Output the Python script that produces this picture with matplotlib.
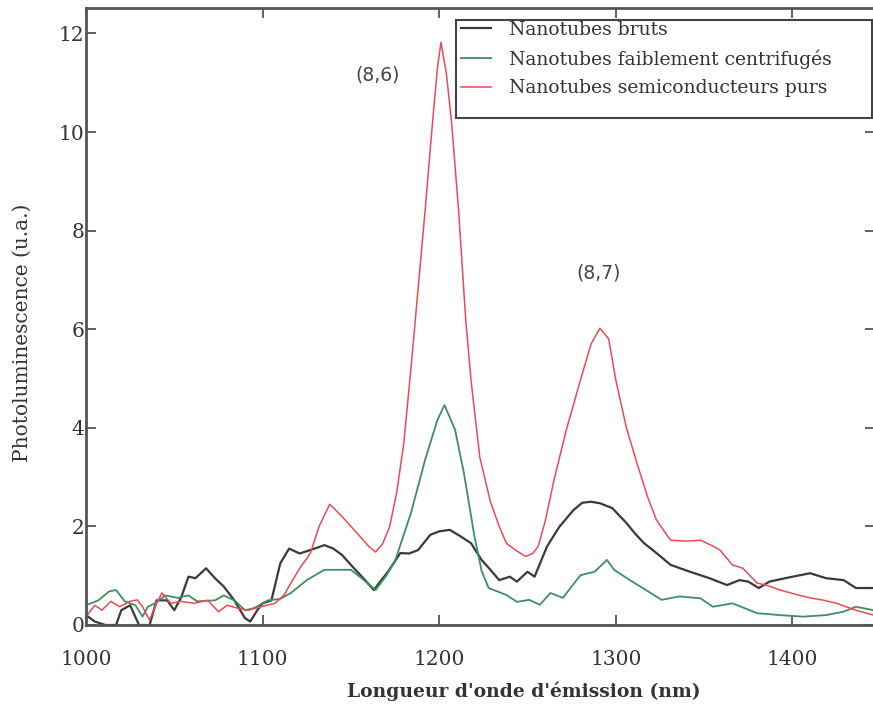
import matplotlib
matplotlib.use("Agg")
import matplotlib.pyplot as plt
from matplotlib.patches import Rectangle

# ---- data ----
x_bruts = [1000,1005,1011,1017,1020,1025,1030,1036,1040,1046,1050,1054,1058,1062,1068,1073,1078,1084,1090,1093,
           1097,1100,1105,1110,1115,1121,1127,1135,1140,1145,1151,1157,1163,1167,1171,1178,1183,1188,1195,1200,
           1206,1212,1218,1224,1229,1234,1240,1244,1250,1254,1261,1268,1276,1281,1286,1291,1298,1306,1311,1316,
           1323,1331,1342,1353,1363,1370,1375,1381,1387,1396,1403,1410,1419,1429,1436,1446]
y_bruts = [0.2,0.07,0.0,0.0,0.3,0.4,0.0,0.0,0.5,0.5,0.3,0.57,0.98,0.95,1.15,0.95,0.78,0.5,0.14,0.07,
           0.3,0.44,0.5,1.25,1.55,1.45,1.52,1.62,1.55,1.42,1.18,0.95,0.71,0.9,1.08,1.46,1.45,1.52,1.83,1.9,
           1.93,1.8,1.66,1.32,1.12,0.91,0.98,0.88,1.08,0.98,1.59,1.99,2.33,2.48,2.5,2.47,2.37,2.07,1.85,1.66,
           1.46,1.22,1.08,0.95,0.81,0.91,0.88,0.75,0.88,0.95,1.0,1.05,0.95,0.91,0.75,0.75]

x_centri = [1000,1007,1013,1017,1022,1028,1032,1035,1039,1045,1052,1058,1063,1073,1078,1084,1090,1095,1103,1110,
            1116,1125,1135,1150,1156,1164,1170,1175,1184,1192,1199,1203,1209,1214,1220,1224,1228,1238,1244,1251,
            1257,1263,1270,1280,1288,1295,1299,1308,1317,1326,1336,1348,1355,1366,1380,1393,1406,1419,1429,1436,1446]
y_centri = [0.4,0.5,0.68,0.71,0.48,0.4,0.17,0.37,0.44,0.6,0.55,0.6,0.48,0.5,0.6,0.5,0.3,0.34,0.5,0.53,
            0.65,0.91,1.12,1.12,0.95,0.71,1.0,1.3,2.27,3.35,4.16,4.46,3.96,3.08,1.79,1.1,0.75,0.61,0.47,0.51,
            0.41,0.65,0.55,1.01,1.08,1.32,1.12,0.91,0.71,0.51,0.58,0.54,0.37,0.44,0.24,0.2,0.17,0.2,0.27,0.37,0.3]

x_purs = [1000,1005,1009,1014,1019,1025,1029,1032,1036,1040,1043,1048,1054,1061,1069,1075,1080,1086,1092,1099,
          1107,1112,1117,1121,1127,1132,1138,1145,1150,1155,1160,1164,1168,1172,1176,1180,1184,1188,1192,1196,
          1199,1201,1204,1207,1211,1215,1218,1223,1229,1234,1238,1244,1249,1253,1256,1260,1265,1272,1280,1286,
          1291,1296,1300,1306,1312,1318,1323,1331,1340,1348,1355,1359,1366,1372,1380,1386,1393,1402,1410,1418,
          1425,1436,1446]
y_purs = [0.17,0.4,0.3,0.48,0.37,0.48,0.51,0.37,0.1,0.44,0.65,0.44,0.48,0.44,0.5,0.27,0.4,0.34,0.3,0.37,
          0.44,0.6,0.91,1.15,1.45,2.0,2.45,2.2,2.0,1.8,1.6,1.48,1.65,2.0,2.7,3.7,5.2,6.8,8.4,10.1,
          11.3,11.82,11.2,10.2,8.4,6.2,4.97,3.4,2.5,2.0,1.66,1.5,1.39,1.45,1.59,2.1,2.94,3.96,4.97,5.7,
          6.02,5.8,4.97,4.0,3.28,2.6,2.13,1.72,1.7,1.72,1.6,1.52,1.22,1.15,0.85,0.8,0.71,0.62,0.55,0.5,
          0.44,0.3,0.2]

labels = ["Nanotubes bruts", "Nanotubes faiblement centrifugés", "Nanotubes semiconducteurs purs"]
x_ticks = [1000, 1100, 1200, 1300, 1400]
y_ticks = [0, 2, 4, 6, 8, 10, 12]
annotations = [("(8,6)", 1165, 11.15), ("(8,7)", 1290, 7.15)]

# ---- figure ----
W, H = 873, 707
fig = plt.figure(figsize=(W / 100, H / 100), dpi=100)
left, right, top, bottom = 86, 875, 8, 625
aw, ah = right - left, bottom - top
ax = fig.add_axes([left / W, 1 - bottom / H, aw / W, ah / H])

ax.plot(x_bruts, y_bruts, color="#3a3a3a", lw=1.6, label=labels[0])
ax.plot(x_centri, y_centri, color="#3f8f62", lw=1.3, label=labels[1])
ax.plot(x_purs, y_purs, color="#ec4a55", lw=1.1, label=labels[2])

ax.set_xlim(1000, 1000 + aw / 1.766)
ax.set_ylim(0, ah / 49.3)
ax.set_xticks(x_ticks)
ax.set_yticks(y_ticks)

serif = "DejaVu Serif"
for sp in ax.spines.values():
    sp.set_color("#555555")
    sp.set_linewidth(2.0)
ax.tick_params(direction="in", length=7, width=1.3, color="#555555",
               top=True, right=True, labelsize=14.5, labelcolor="#333333")
ax.tick_params(axis="x", pad=18)
ax.tick_params(axis="y", pad=1)
for lab in ax.get_xticklabels() + ax.get_yticklabels():
    lab.set_family(serif)

ax.set_xlabel("Longueur d'onde d'émission (nm)", family=serif, fontweight="bold",
              fontsize=13.5, color="#333333")
ax.xaxis.set_label_coords((524 - left) / aw, -(691 - bottom) / ah)
ax.xaxis.label.set_va("center")
ax.set_ylabel("Photoluminescence (u.a.)", family=serif, fontsize=14.5, color="#333333")
ax.yaxis.set_label_coords(-(left - 22) / aw, (bottom - 333) / ah)
ax.yaxis.label.set_va("center")

for txt, xx, yy in annotations:
    ax.text(xx, yy, txt, fontsize=13.5, color="#444444", ha="center", va="center",
            family="DejaVu Sans")

# legend box
box = Rectangle(((456 - left) / aw, (bottom - 118) / ah), (872 - 456) / aw, (118 - 20) / ah,
                transform=ax.transAxes, facecolor="white", edgecolor="#444444", lw=1.5,
                zorder=4, clip_on=False)
ax.add_patch(box)
leg = ax.legend(loc="upper left", bbox_to_anchor=((461 - left) / aw, (bottom - 21) / ah),
                borderaxespad=0, frameon=False, handlelength=1.6,
                prop={"family": serif, "size": 13.5}, labelspacing=0.55, borderpad=0,
                handletextpad=0.95)
leg.set_zorder(5)
for t in leg.get_texts():
    t.set_color("#333333")

fig.savefig("out.png", dpi=100)
